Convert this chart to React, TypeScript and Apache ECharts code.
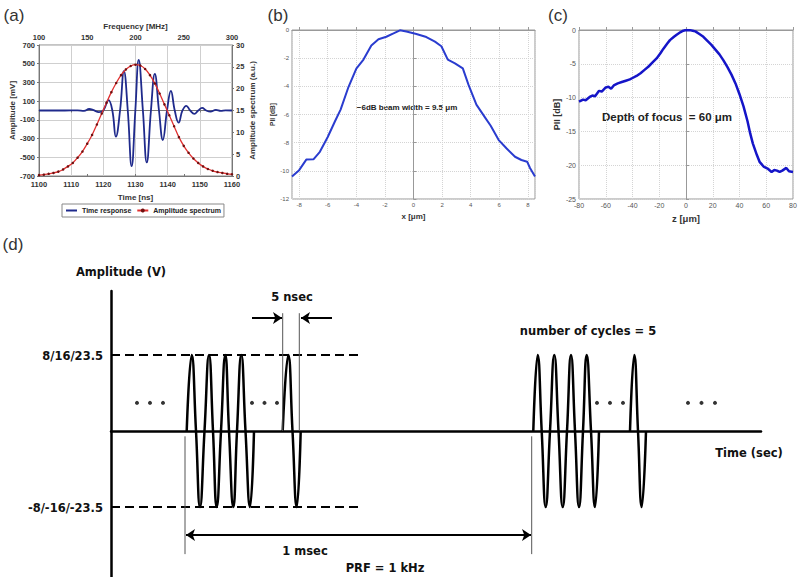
import React, { useEffect, useRef } from 'react';
import * as echarts from 'echarts';

// ---------- (a) time response & amplitude spectrum ----------
const timeTicksNs = [1100, 1160];
const timeResponse: [number, number][] = [
  [1100, 0], [1108, 0], [1112, 2], [1114, -3], [1115.6, 16], [1117, 3], [1118.6, -18], [1120, 0],
  [1121.6, 110], [1122.8, 0], [1123.9, -280], [1125.2, 0], [1126.4, 420], [1127.6, 0],
  [1128.8, -595], [1129.95, 0], [1131.0, 540], [1132.3, 0], [1133.5, -555], [1134.8, 0],
  [1136.0, 392], [1137.3, 0], [1138.5, -315], [1139.8, 0], [1141.0, 210], [1142.2, 0],
  [1143.4, -130], [1144.6, 0], [1145.8, 50], [1147, 0], [1148.3, -35], [1149.5, 0],
  [1150.7, 28], [1152, 0], [1153.3, -12], [1155, 6], [1156.5, -4], [1158, 2], [1160, 0],
];
const spectrumFreq = [
  100, 105, 110, 115, 120, 125, 130, 135, 140, 145, 150, 155, 160, 165, 170, 175, 180, 185, 190, 195,
  200, 205, 210, 215, 220, 225, 230, 235, 240, 245, 250, 255, 260, 265, 270, 275, 280, 285, 290, 295, 300,
];
const spectrumAmp = [
  0.2, 0.3, 0.5, 0.7, 1.0, 1.5, 2.2, 3.0, 4.2, 5.6, 7.4, 9.4, 11.8, 14.3, 16.8, 19.2, 21.3, 23.1, 24.4, 25.2,
  25.5, 25.3, 24.5, 23.1, 21.2, 18.9, 16.4, 13.9, 11.4, 8.9, 6.9, 5.3, 4.0, 3.0, 2.2, 1.6, 1.2, 0.9, 0.7, 0.5, 0.4,
];

// ---------- (b) lateral beam profile ----------
const beamProfile: [number, number][] = [
  [-8.5, -10.4], [-8.0, -9.95], [-7.5, -9.2], [-7.0, -9.18], [-6.55, -8.65], [-6.0, -7.6], [-5.5, -6.5],
  [-5.1, -5.65], [-4.55, -4.05], [-4.0, -2.75], [-3.5, -2.1], [-2.95, -1.1], [-2.45, -0.66], [-1.9, -0.48],
  [-1.4, -0.24], [-0.95, -0.02], [-0.5, -0.1], [0.2, -0.28], [0.9, -0.5], [1.5, -0.83], [1.95, -1.15],
  [2.4, -2.1], [2.9, -2.37], [3.45, -2.72], [3.85, -3.9], [4.4, -5.3], [5.0, -6.2], [5.4, -6.8],
  [5.95, -7.8], [6.5, -8.4], [7.1, -9.0], [7.55, -9.23], [7.95, -9.35], [8.15, -9.8], [8.5, -10.4],
];

// ---------- (c) axial profile ----------
const depthProfile: [number, number][] = [
  [-80, -10.6], [-77, -10.3], [-75, -10.4], [-72, -9.9], [-70, -9.7], [-68, -9.8], [-65, -9.0], [-63, -9.1],
  [-60, -8.5], [-58, -8.4], [-56, -8.7], [-54, -8.2], [-51, -7.9], [-48, -7.7], [-45, -7.5], [-42, -7.3],
  [-40, -7.1], [-37, -6.8], [-34, -6.4], [-31, -5.9], [-28, -5.4], [-25, -4.8], [-22, -4.2], [-19, -3.4],
  [-17, -2.8], [-14, -2.0], [-12, -1.5], [-9, -1.0], [-7, -0.7], [-4, -0.3], [-2, -0.1], [0, 0], [3, -0.02],
  [5, -0.1], [7, -0.2], [10, -0.6], [13, -1.0], [16, -1.6], [19, -2.2], [22, -2.9], [25, -3.6], [28, -4.5],
  [31, -5.5], [34, -6.6], [37, -7.9], [40, -9.5], [43, -11.3], [46, -13.5], [48, -15.3], [50, -16.8],
  [53, -18.5], [55, -19.5], [58, -20.2], [61, -20.5], [64, -21.0], [66, -20.7], [68, -20.8], [70, -21.0],
  [72, -20.8], [75, -20.4], [77, -20.9], [80, -21.0],
];

// ---------- (d) pulse schematic (diagram units) ----------
const burstA: [number, number][] = [
  [75.7, 0], [80.7, 1], [85, 0], [89, -1], [93.5, 0], [98, 1], [102, 0], [105.7, -1], [110, 0],
  [114.3, 1], [118, 0], [122.3, -1], [126, 0], [130.3, 1], [134.5, 0], [139, -1], [143, 0],
];
const singleA: [number, number][] = [[171.7, 0], [177.3, 1], [181.5, 0], [185.7, -1], [189.7, 0]];
const burstB: [number, number][] = [
  [422.3, 0], [426.7, 1], [430.7, 0], [434.7, -1], [439, 0], [443.3, 1], [447.5, 0], [451.7, -1], [456, 0],
  [460, 1], [464, 0], [468, -1], [472, 0], [475.7, 1], [480, 0], [484, -1], [488, 0],
];
const singleB: [number, number][] = [[519, 0], [523.3, 1], [527, 0], [530.7, -1], [535, 0]];
const levelTop: [number, number][] = [[0, 1], [248, 1]];
const levelBottom: [number, number][] = [[0, -1], [249, -1]];
const guideLines: [number, number][][] = [
  [[171.7, 1.55], [171.7, 0]],
  [[188.3, 1.55], [188.3, 0]],
  [[74, -0.07], [74, -1.62]],
  [[420.7, -0.07], [420.7, -1.62]],
];
const ellipsisDots: [number, number][] = [
  [26, 0.37], [39, 0.37], [52, 0.37], [141, 0.37], [153.5, 0.37], [166, 0.37],
  [486, 0.37], [499, 0.37], [512, 0.37], [577, 0.37], [590.5, 0.37], [604, 0.37],
];
const arrowY5ns = 1.487;
const arrowY1ms = -1.368;

const BOLD_D = 'bold 11.5px "DejaVu Sans"';

export default function App() {
  const ref = useRef<HTMLDivElement>(null);

  useEffect(() => {
    if (!ref.current) return;
    const chart = echarts.init(ref.current, null, { renderer: 'svg' });

    const axA = {
      axisLine: { show: true, lineStyle: { color: '#777' } },
      axisTick: { show: true, length: 2, lineStyle: { color: '#777' } },
      axisLabel: { fontSize: 7.5, fontWeight: 'bold', color: '#333', margin: 4, formatter: (v: number) => String(v) },
      nameTextStyle: { fontSize: 8, fontWeight: 'bold', color: '#333' },
      nameLocation: 'middle',
    };
    const gridSplit = { show: true, lineStyle: { color: '#cfcfcf', width: 1 } };
    const dotSplit = { show: true, lineStyle: { color: '#d4d4d4', type: 'dotted', width: 1 } };

    const dSeries = (data: any, extra: any = {}) => ({
      type: 'line',
      xAxisIndex: 4,
      yAxisIndex: 4,
      data,
      showSymbol: false,
      symbol: 'none',
      silent: true,
      lineStyle: { color: '#000', width: 2.5 },
      ...extra,
    });

    const option: any = {
      animation: false,
      backgroundColor: '#fff',
      textStyle: { fontFamily: 'Liberation Sans' },
      legend: {
        data: [
          { name: 'Time response', itemStyle: { opacity: 0 } },
          { name: 'Amplitude spectrum' },
        ],
        left: 62,
        top: 204,
        itemWidth: 11,
        itemHeight: 5,
        itemGap: 5,
        padding: [3, 3],
        borderColor: '#888',
        borderWidth: 1,
        textStyle: { fontSize: 7, fontWeight: 'bold', color: '#222' },
      },
      grid: [
        { left: 39, top: 45, width: 193, height: 131, show: true, borderColor: '#888', borderWidth: 1 },
        { left: 292, top: 30, width: 243, height: 169, show: true, borderColor: '#999', borderWidth: 1 },
        { left: 579, top: 30, width: 214, height: 169, show: true, borderColor: '#999', borderWidth: 1 },
        { left: 111, top: 291, width: 650, height: 286, show: false },
      ],
      xAxis: [
        {
          ...axA, type: 'value', gridIndex: 0, position: 'bottom', min: timeTicksNs[0], max: timeTicksNs[1], interval: 10,
          name: 'Time [ns]', nameGap: 17, splitLine: gridSplit,
        },
        {
          ...axA, type: 'value', gridIndex: 0, position: 'top', min: 100, max: 300, interval: 50,
          name: 'Frequency [MHz]', nameGap: 15, splitLine: { show: false },
        },
        {
          type: 'value', gridIndex: 1, min: -8.5, max: 8.5, splitNumber: 8,
          axisLine: { show: true, lineStyle: { color: '#999' } },
          axisTick: { show: true, inside: true, length: 3, lineStyle: { color: '#999' } },
          axisLabel: { fontSize: 6, color: '#555', margin: 3, showMinLabel: false, showMaxLabel: false },
          splitLine: dotSplit,
          name: 'x [μm]', nameLocation: 'middle', nameGap: 13,
          nameTextStyle: { fontSize: 8, fontWeight: 'bold', color: '#333' },
        },
        {
          type: 'value', gridIndex: 2, min: -80, max: 80, interval: 20,
          axisLine: { show: true, lineStyle: { color: '#999' } },
          axisTick: { show: true, inside: true, length: 3, lineStyle: { color: '#999' } },
          axisLabel: { fontSize: 7, color: '#555', margin: 3 },
          splitLine: dotSplit,
          name: 'z [μm]', nameLocation: 'middle', nameGap: 14,
          nameTextStyle: { fontSize: 9.5, fontWeight: 'bold', color: '#333' },
        },
        {
          type: 'value', gridIndex: 3, min: 0, max: 650,
          axisLine: { show: true, onZero: true, lineStyle: { color: '#000', width: 2.5 } },
          axisTick: { show: false }, axisLabel: { show: false }, splitLine: { show: false },
        },
      ],
      yAxis: [
        {
          ...axA, type: 'value', gridIndex: 0, min: -700, max: 700, interval: 200,
          name: 'Amplitude [mV]', nameRotate: 90, nameGap: 21, splitLine: gridSplit,
        },
        {
          ...axA, type: 'value', gridIndex: 0, position: 'right', min: 0, max: 30, interval: 5,
          name: 'Amplitude spectrum (a.u.)', nameRotate: 90, nameGap: 15, splitLine: { show: false },
        },
        {
          type: 'value', gridIndex: 1, min: -12, max: 0, interval: 2,
          axisLine: { show: true, lineStyle: { color: '#999' } },
          axisTick: { show: true, inside: true, length: 3, lineStyle: { color: '#999' } },
          axisLabel: { fontSize: 6, color: '#555', margin: 3 },
          splitLine: dotSplit,
          name: 'PII [dB]', nameLocation: 'middle', nameRotate: 90, nameGap: 14,
          nameTextStyle: { fontSize: 6.5, fontWeight: 'bold', color: '#333' },
        },
        {
          type: 'value', gridIndex: 2, min: -25, max: 0, interval: 5,
          axisLine: { show: true, lineStyle: { color: '#999' } },
          axisTick: { show: true, inside: true, length: 3, lineStyle: { color: '#999' } },
          axisLabel: { fontSize: 7, color: '#555', margin: 3 },
          splitLine: dotSplit,
          name: 'PII [dB]', nameLocation: 'middle', nameRotate: 90, nameGap: 17,
          nameTextStyle: { fontSize: 9, fontWeight: 'bold', color: '#333' },
        },
        {
          type: 'value', gridIndex: 3, min: -1.921, max: 1.842,
          axisLine: { show: true, onZero: false, lineStyle: { color: '#000', width: 2.5 } },
          axisTick: { show: false }, axisLabel: { show: false }, splitLine: { show: false },
        },
      ],
      series: [
        {
          name: 'Time response', type: 'line', xAxisIndex: 0, yAxisIndex: 0, data: timeResponse,
          smooth: 0.45, symbol: 'none', showSymbol: false,
          lineStyle: { color: '#1f2a8c', width: 1.8 }, itemStyle: { color: '#1f2a8c' },
        },
        {
          name: 'Amplitude spectrum', type: 'line', xAxisIndex: 1, yAxisIndex: 1,
          data: spectrumFreq.map((f, i) => [f, spectrumAmp[i]]),
          smooth: 0.3, symbol: 'circle', symbolSize: 2.5, showSymbol: true,
          lineStyle: { color: '#e03030', width: 1.3 }, itemStyle: { color: '#6e1010' },
        },
        {
          name: 'beam', type: 'line', xAxisIndex: 2, yAxisIndex: 2, data: beamProfile,
          symbol: 'none', lineStyle: { color: '#2a3ccf', width: 2 },
        },
        {
          name: 'depth', type: 'line', xAxisIndex: 3, yAxisIndex: 3, data: depthProfile,
          symbol: 'none', lineStyle: { color: '#1515c8', width: 2.5 },
        },
        dSeries(burstA, { smooth: 0.5 }),
        dSeries(singleA, { smooth: 0.5 }),
        dSeries(burstB, { smooth: 0.5 }),
        dSeries(singleB, { smooth: 0.5 }),
        dSeries(levelTop, { lineStyle: { color: '#000', width: 2, type: [9, 5] } }),
        dSeries(levelBottom, {
          lineStyle: { color: '#000', width: 2, type: [9, 5] },
          markLine: {
            silent: true,
            symbolSize: 9,
            label: { show: false },
            lineStyle: { color: '#000', width: 2, type: 'solid' },
            data: [
              [{ coord: [141, arrowY5ns], symbol: 'none' }, { coord: [171, arrowY5ns], symbol: 'arrow' }],
              [{ coord: [221, arrowY5ns], symbol: 'none' }, { coord: [190, arrowY5ns], symbol: 'arrow' }],
              [{ coord: [75, arrowY1ms], symbol: 'arrow' }, { coord: [420, arrowY1ms], symbol: 'arrow' }],
            ],
          },
        }),
        ...guideLines.map((g) => dSeries(g, { lineStyle: { color: '#555', width: 1 } })),
        {
          type: 'scatter', xAxisIndex: 4, yAxisIndex: 4, data: ellipsisDots, symbol: 'circle',
          symbolSize: 4, itemStyle: { color: '#000' }, silent: true,
        },
      ],
      graphic: [
        { type: 'text', x: 14, y: 15, style: { text: '(a)', font: '17px "Liberation Sans"', fill: '#333', align: 'center', verticalAlign: 'middle' } },
        { type: 'text', x: 278, y: 15, style: { text: '(b)', font: '17px "Liberation Sans"', fill: '#333', align: 'center', verticalAlign: 'middle' } },
        { type: 'text', x: 558, y: 15, style: { text: '(c)', font: '17px "Liberation Sans"', fill: '#333', align: 'center', verticalAlign: 'middle' } },
        { type: 'text', x: 13, y: 244, style: { text: '(d)', font: '17px "Liberation Sans"', fill: '#333', align: 'center', verticalAlign: 'middle' } },
        { type: 'text', x: 407, y: 107, style: { text: '\u22126dB beam width = 9.5 \u03bcm', font: 'bold 8px "Liberation Sans"', fill: '#222', align: 'center', verticalAlign: 'middle' } },
        { type: 'text', x: 667, y: 117, style: { text: 'Depth of focus  = 60 \u03bcm', font: 'bold 11.5px "Liberation Sans"', fill: '#222', align: 'center', verticalAlign: 'middle' } },
        { type: 'text', x: 121, y: 272, style: { text: 'Amplitude (V)', font: BOLD_D, fill: '#111', align: 'center', verticalAlign: 'middle' } },
        { type: 'text', x: 103, y: 356, style: { text: '8/16/23.5', font: BOLD_D, fill: '#111', align: 'right', verticalAlign: 'middle' } },
        { type: 'text', x: 103, y: 508, style: { text: '-8/-16/-23.5', font: BOLD_D, fill: '#111', align: 'right', verticalAlign: 'middle' } },
        { type: 'text', x: 292, y: 297, style: { text: '5 nsec', font: BOLD_D, fill: '#111', align: 'center', verticalAlign: 'middle' } },
        { type: 'text', x: 588, y: 331, style: { text: 'number of cycles = 5', font: BOLD_D, fill: '#111', align: 'center', verticalAlign: 'middle' } },
        { type: 'text', x: 749, y: 453, style: { text: 'Time (sec)', font: BOLD_D, fill: '#111', align: 'center', verticalAlign: 'middle' } },
        { type: 'text', x: 305, y: 551, style: { text: '1 msec', font: BOLD_D, fill: '#111', align: 'center', verticalAlign: 'middle' } },
        { type: 'text', x: 385, y: 568, style: { text: 'PRF = 1 kHz', font: BOLD_D, fill: '#111', align: 'center', verticalAlign: 'middle' } },
      ],
    };

    chart.setOption(option);
    return () => chart.dispose();
  }, []);

  return (
    <div
      ref={ref}
      style={{ position: 'fixed', left: 0, top: 0, width: 800, height: 577, background: '#fff' }}
    />
  );
}
